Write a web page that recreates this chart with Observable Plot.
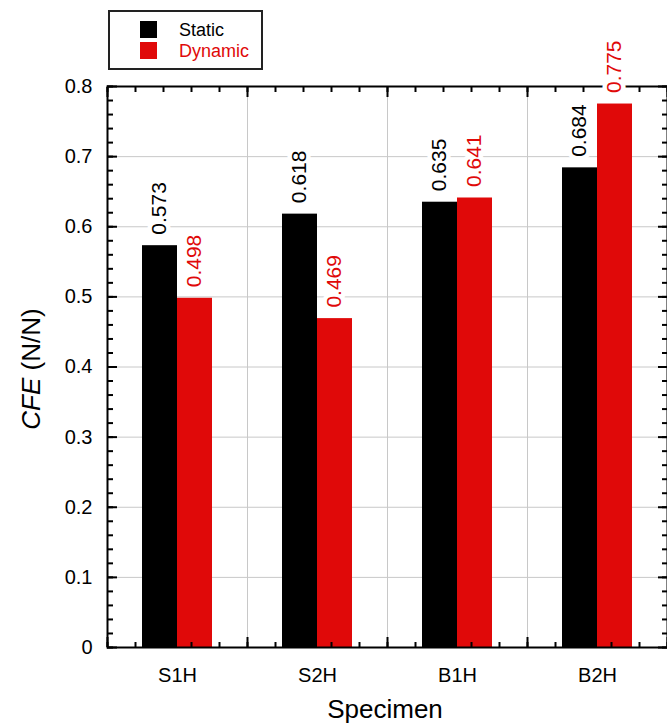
<!DOCTYPE html>
<html><head><meta charset="utf-8">
<script src="https://cdn.jsdelivr.net/npm/d3@7"></script>
<script src="https://cdn.jsdelivr.net/npm/@observablehq/plot@0.6"></script>
<style>
body{margin:0;background:#fff;}
#wrap{position:relative;width:667px;height:723px;font-family:"Liberation Sans",Arial,sans-serif;overflow:hidden;}
#legend{position:absolute;left:108px;top:10px;width:151px;height:56px;border:2px solid #222;background:#fff;z-index:2;}
.item{position:absolute;left:30px;width:120px;height:17px;}
.sw{position:absolute;left:0;top:0;width:17px;height:17px;}
.lab{position:absolute;left:39px;top:-2px;font-size:18px;line-height:22px;white-space:nowrap;}
</style></head>
<body>
<div id="wrap"><div id="legend"></div></div>
<script>
const categories = ["S1H", "S2H", "B1H", "B2H"];
const series = ["Static", "Dynamic"];
const staticValues = [0.573, 0.618, 0.635, 0.684];
const dynamicValues = [0.498, 0.469, 0.641, 0.775];
const seriesColors = ["#000000", "#e00909"];
const yTicks = [0, 0.1, 0.2, 0.3, 0.4, 0.5, 0.6, 0.7, 0.8];
const yGrid = [0.1, 0.2, 0.3, 0.4, 0.5, 0.6, 0.7];

const font = '"Liberation Sans", Arial, sans-serif';
const rows = categories.flatMap((c, i) => [
  {cat: c, pos: i + 1, series: series[0], value: staticValues[i], off: -0.25},
  {cat: c, pos: i + 1, series: series[1], value: dynamicValues[i], off: 0}
]);
const barW = 0.25;
const yMinor = d3.range(0, 41).map(k => k / 50);
const xMinor = d3.range(0, 21).map(k => 0.5 + k / 5);
const xMajor = [0.5, 1.5, 2.5, 3.5, 4.5];
const catPos = categories.map((c, i) => i + 1);
const gridX = [1.5, 2.5, 3.5];

const tickStyle = {fill: "none", stroke: "black", strokeWidth: 2, label: null};

const chart = Plot.plot({
  width: 667, height: 723,
  marginLeft: 107, marginRight: 0, marginTop: 86, marginBottom: 76,
  x: {domain: [0.5, 4.5]},
  y: {domain: [0, 0.8]},
  color: {domain: series, range: seriesColors},
  style: {fontFamily: font, fontSize: "20px", background: "white", color: "black", overflow: "visible"},
  marks: [
    Plot.gridY(yGrid, {stroke: "#c8c8c8", strokeOpacity: 1, strokeWidth: 1}),
    Plot.gridX(gridX, {stroke: "#c8c8c8", strokeOpacity: 1, strokeWidth: 1}),
    Plot.rectY(rows, {x1: d => d.pos + d.off, x2: d => d.pos + d.off + barW, y: "value", fill: "series"}),
    Plot.axisY(yMinor, {anchor: "left", tickSize: -6, ...tickStyle}),
    Plot.axisY(yTicks, {anchor: "left", tickSize: -10, ...tickStyle}),
    Plot.axisY(yMinor, {anchor: "right", tickSize: -6, ...tickStyle}),
    Plot.axisY(yTicks, {anchor: "right", tickSize: -10, ...tickStyle}),
    Plot.axisX(xMinor, {anchor: "bottom", tickSize: -5, ...tickStyle}),
    Plot.axisX(xMajor, {anchor: "bottom", tickSize: -10, ...tickStyle}),
    Plot.axisX(xMinor, {anchor: "top", tickSize: -5, ...tickStyle}),
    Plot.axisX(xMajor, {anchor: "top", tickSize: -10, ...tickStyle}),
    Plot.frame({stroke: "black", strokeWidth: 2}),
    Plot.axisY(yTicks, {anchor: "left", tickSize: 0, tickPadding: 15, tickFormat: d => String(d), fontSize: 20, label: null}),
    Plot.axisX(catPos, {anchor: "bottom", tickSize: 0, tickPadding: 20, tickFormat: d => categories[d - 1], fontSize: 20, label: null}),
    Plot.text(rows, {
      x: d => d.pos + d.off + barW / 2, y: "value", text: d => d.value.toFixed(3),
      rotate: -90, textAnchor: "start", lineAnchor: "middle", dy: -11, dx: -1,
      fill: "series", stroke: "white", strokeWidth: 9, strokeLinejoin: "round", paintOrder: "stroke", fontSize: 21
    })
  ]
});

const svg = d3.select(chart);
const yl = svg.append("text")
  .attr("transform", "translate(40,369) rotate(-90)")
  .attr("text-anchor", "middle")
  .attr("fill", "black")
  .style("font-size", "26px").style("font-family", font);
yl.append("tspan").style("font-style", "italic").text("CFE");
yl.append("tspan").text(" (N/N)");
svg.append("text")
  .attr("x", 385).attr("y", 718)
  .attr("text-anchor", "middle")
  .attr("fill", "black")
  .style("font-size", "26px").style("font-family", font)
  .text("Specimen");

const wrap = document.getElementById("wrap");
wrap.appendChild(chart);
chart.style.position = "absolute"; chart.style.left = "0"; chart.style.top = "0";

const legend = d3.select("#legend");
series.forEach((s, i) => {
  const it = legend.append("div").attr("class", "item").style("top", (9 + 21 * i) + "px");
  it.append("div").attr("class", "sw").style("background", seriesColors[i]);
  it.append("div").attr("class", "lab").style("color", seriesColors[i]).text(s);
});
</script>
</body></html>
